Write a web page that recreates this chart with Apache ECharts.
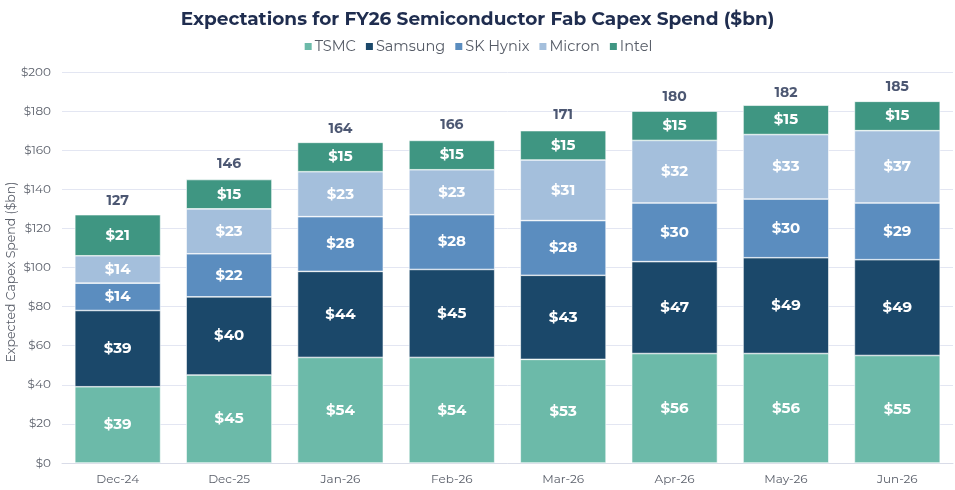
<!DOCTYPE html>
<html>
<head>
<meta charset="utf-8">
<script src="https://cdn.jsdelivr.net/npm/echarts@6/dist/echarts.min.js"></script>
<style>
  html, body { margin: 0; padding: 0; background: #fff; }
  #chart { width: 955px; height: 490px; }
</style>
</head>
<body>
<div id="chart"></div>
<script>
// 数据
const categories = ["Dec-24", "Dec-25", "Jan-26", "Feb-26", "Mar-26", "Apr-26", "May-26", "Jun-26"];
const tsmc = [39, 45, 54, 54, 53, 56, 56, 55];
const samsung = [39, 40, 44, 45, 43, 47, 49, 49];
const skHynix = [14, 22, 28, 28, 28, 30, 30, 29];
const micron = [14, 23, 23, 23, 31, 32, 33, 37];
const intel = [21, 15, 15, 15, 15, 15, 15, 15];
const totals = [127, 146, 164, 166, 171, 180, 182, 185];

const font = "Montserrat, 'Open Sans', 'Noto Sans', sans-serif";

const chart = echarts.init(document.getElementById("chart"));

const seg = (name, data, color) => ({
  name: name,
  type: "bar",
  stack: "capex",
  data: data,
  barWidth: "77%",
  itemStyle: { color: color, borderColor: "#ffffff", borderWidth: 0.6 },
  label: {
    show: true,
    position: "inside",
    color: "#ffffff",
    fontWeight: "bold",
    fontSize: 15,
    fontFamily: font,
    formatter: p => "$" + p.value
  }
});

const option = {
  animation: false,
  title: {
    text: "Expectations for FY26 Semiconductor Fab Capex Spend ($bn)",
    left: "center",
    top: 5,
    textStyle: { color: "#1f2d4f", fontSize: 18.5, fontWeight: "bold", fontFamily: font }
  },
  legend: {
    top: 34,
    left: "center",
    itemWidth: 9,
    itemHeight: 9,
    itemGap: 8,
    icon: "rect",
    textStyle: { color: "#555b66", fontSize: 14.5, fontFamily: font, padding: [0, 0, 0, -3] },
    data: ["TSMC", "Samsung", "SK Hynix", "Micron", "Intel"]
  },
  // y轴标题用graphic放置
  graphic: [{
    type: "text",
    x: 11,
    y: 272,
    rotation: Math.PI / 2,
    style: {
      text: "Expected Capex Spend ($bn)",
      fill: "#5a5f6a",
      font: "12.5px " + font,
      align: "center",
      verticalAlign: "middle"
    }
  }],
  grid: { left: 62, right: 2, top: 72, bottom: 27, outerBoundsMode: "none", containLabel: false },
  xAxis: {
    type: "category",
    data: categories,
    axisLine: { lineStyle: { color: "#d9dce8" } },
    axisTick: { show: false },
    axisLabel: { color: "#5a5f6a", fontSize: 12, fontFamily: font, margin: 10 }
  },
  yAxis: {
    type: "value",
    min: 0,
    max: 200,
    interval: 20,
    axisLabel: { color: "#5a5f6a", fontSize: 12, fontFamily: font, formatter: v => "$" + v, margin: 11 },
    splitLine: { lineStyle: { color: "#e3e6f2" } }
  },
  series: [
    seg("TSMC", tsmc, "#6cbaa9"),
    seg("Samsung", samsung, "#1b486a"),
    seg("SK Hynix", skHynix, "#5b8dbf"),
    seg("Micron", micron, "#a4bfdc"),
    seg("Intel", intel, "#3f9682"),
    {
      // 总计标签
      name: "Total",
      type: "scatter",
      data: totals,
      symbolSize: 0,
      silent: true,
      label: {
        show: true,
        position: "top",
        distance: 7,
        color: "#1f2d4f",
        fontWeight: "bold",
        fontSize: 14,
        fontFamily: font
      }
    }
  ]
};

option && chart.setOption(option);
</script>
</body>
</html>
